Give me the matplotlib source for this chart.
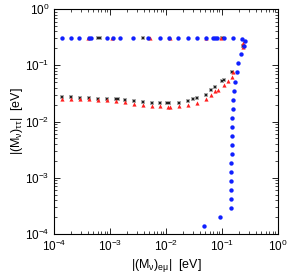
import matplotlib
matplotlib.use("Agg")
import matplotlib.pyplot as plt
import numpy as np
from matplotlib.ticker import LogLocator, NullFormatter

plt.rcParams['font.family'] = ['Liberation Sans', 'DejaVu Sans']
plt.rcParams['mathtext.default'] = 'regular'

# blue series: top plateau then steep branch
blue_x = [1.39e-4, 2.0e-4, 2.8e-4, 4.2e-4, 4.6e-4, 8.9e-4, 1.13e-3, 1.53e-3, 2.6e-3,
          4.8e-3, 7.7e-3, 0.0113, 0.0163, 0.0245, 0.0355, 0.051, 0.068, 0.076, 0.083,
          0.11, 0.154, 0.226, 0.26, 0.245, 0.22, 0.195, 0.186, 0.171, 0.165, 0.16,
          0.158, 0.153, 0.151, 0.151, 0.149, 0.149, 0.147, 0.147, 0.147, 0.147,
          0.147, 0.147, 0.091, 0.047]
blue_y = [0.3, 0.3, 0.3, 0.3, 0.3, 0.3, 0.3, 0.3, 0.3,
          0.3, 0.3, 0.3, 0.3, 0.3, 0.3, 0.3, 0.3, 0.3, 0.3,
          0.3, 0.3, 0.29, 0.27, 0.225, 0.158, 0.108, 0.075, 0.051, 0.035, 0.0245,
          0.0166, 0.0116, 8.0e-3, 5.6e-3, 3.85e-3, 2.66e-3, 1.84e-3, 1.27e-3, 8.8e-4,
          6.1e-4, 4.2e-4, 2.9e-4, 2.0e-4, 1.39e-4]

# gray series (square with cross)
gray_x = [1.39e-4, 1.99e-4, 2.88e-4, 4.17e-4, 6.11e-4, 8.84e-4, 1.30e-3, 1.38e-3,
          1.83e-3, 2.68e-3, 3.88e-3, 5.55e-3, 7.94e-3, 0.0102, 0.0112, 0.0171, 0.0244,
          0.0303, 0.0358, 0.0512, 0.0647, 0.0741, 0.1017, 0.107, 0.153, 0.234,
          6.1e-4, 6.7e-4, 3.9e-3, 0.098]
gray_y = [0.0268, 0.0268, 0.0264, 0.0258, 0.0254, 0.0250, 0.0247, 0.0250,
          0.0240, 0.0228, 0.0219, 0.0215, 0.0212, 0.0215, 0.0215, 0.0215, 0.0228,
          0.0247, 0.0258, 0.0299, 0.0362, 0.0404, 0.0524, 0.0545, 0.0748, 0.22,
          0.3, 0.3, 0.3, 0.3]

# red series (triangles)
red_x = [1.39e-4, 1.99e-4, 2.88e-4, 4.17e-4, 6.11e-4, 8.84e-4, 1.30e-3, 1.83e-3,
         2.68e-3, 3.88e-3, 5.55e-3, 7.94e-3, 0.0107, 0.0118, 0.0171, 0.0244, 0.0358,
         0.0512, 0.0647, 0.0741, 0.086, 0.107, 0.128, 0.153, 0.16, 0.236, 0.24,
         4.0e-4, 1.1e-3, 5.2e-3, 0.012, 0.051, 0.095]
red_y = [0.0250, 0.0250, 0.0250, 0.0247, 0.0243, 0.0240, 0.0228, 0.0219,
         0.0207, 0.0193, 0.0186, 0.0186, 0.0180, 0.0180, 0.0186, 0.0193, 0.0212,
         0.0250, 0.0300, 0.0347, 0.0360, 0.0444, 0.0524, 0.0624, 0.075, 0.25, 0.21,
         0.3, 0.3, 0.3, 0.3, 0.3, 0.3]

fig = plt.figure(figsize=(2.89, 2.75), dpi=100)
ax = fig.add_axes([0.187, 0.149, 0.775, 0.818])

ax.scatter(gray_x, gray_y, marker='s', s=11, color='#a8a8a8', linewidths=0, zorder=2)
ax.scatter(gray_x, gray_y, marker='s', s=2.5, color='#202020', linewidths=0, zorder=3)
ax.scatter(red_x, red_y, marker='^', s=9, color='#ff2020', linewidths=0, zorder=4)
ax.scatter(blue_x, blue_y, marker='o', s=10, color='#1020ff', linewidths=0, zorder=5)

ax.set_xscale('log')
ax.set_yscale('log')
ax.set_xlim(1e-4, 1)
ax.set_ylim(1e-4, 1)

for a in (ax.xaxis, ax.yaxis):
    a.set_major_locator(LogLocator(base=10, numticks=10))
    a.set_minor_locator(LogLocator(base=10, subs=np.arange(2, 10), numticks=10))
    a.set_minor_formatter(NullFormatter())

ax.tick_params(which='both', direction='in', top=True, right=True, labelsize=8.5)
ax.tick_params(which='major', length=4, width=0.6)
ax.tick_params(which='minor', length=2, width=0.5)
for sp in ax.spines.values():
    sp.set_linewidth(0.8)

ax.set_xlabel('|(M$_{ν}$)$_{eμ}$|  [eV]', fontsize=9, labelpad=2)
ax.set_ylabel('|(M$_{ν}$)$_{ττ}$|  [eV]', fontsize=9, labelpad=0)

fig.savefig('out.png', dpi=100)
